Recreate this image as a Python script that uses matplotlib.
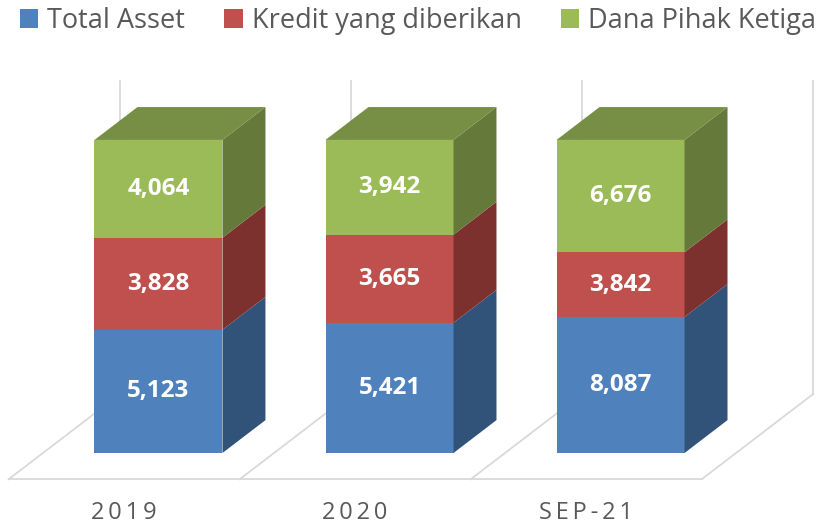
import matplotlib.pyplot as plt
from matplotlib.patches import Polygon, Patch
import numpy as np

categories = ['2019', '2020', 'SEP-21']
series_names = ['Total Asset', 'Kredit yang diberikan', 'Dana Pihak Ketiga']
total_asset = [5123, 5421, 8087]
kredit = [3828, 3665, 3842]
dpk = [4064, 3942, 6676]

front_colors = ['#4F81BD', '#C0504D', '#9BBB59']
side_colors = ['#325379', '#7D312F', '#65793A']
top_colors = ['#3C6494', '#963D3B', '#768F44']
grid_col = '#D9D9D9'
text_col = '#595959'

# 3D look: depth vector in data units
bar_w = 0.554
DX, DY = 0.186, 0.105
d_front, d_back = -0.8, 1.8

fig = plt.figure(figsize=(8.22, 5.27), dpi=100)
ax = fig.add_axes([0, 0, 1, 1])
ax.set_xlim(-0.686, 2.872)
ax.set_ylim(-0.2364, 1.447)
ax.axis('off')

n = len(categories)
x = np.arange(n)

# floor and back wall lines
for b in np.arange(n + 1) - 0.5:
    ax.plot([b + d_front * DX, b + d_back * DX], [d_front * DY, d_back * DY],
            color=grid_col, lw=1.3, zorder=1)
    ax.plot([b + d_back * DX] * 2, [d_back * DY, 1 + d_back * DY],
            color=grid_col, lw=1.3, zorder=1)
ax.plot([-0.5 + d_front * DX, n - 0.5 + d_front * DX], [d_front * DY] * 2,
        color=grid_col, lw=1.3, zorder=1)

# 100% stacked values
data = np.array([total_asset, kredit, dpk], dtype=float)
frac = data / data.sum(axis=0)
bottoms = np.vstack([np.zeros(n), np.cumsum(frac, axis=0)[:-1]])

for s in range(3):
    ax.bar(x, frac[s], bar_w, bottom=bottoms[s], color=front_colors[s],
           edgecolor='none', zorder=3)
    for i in range(n):
        xr = x[i] + bar_w / 2
        y0, y1 = bottoms[s][i], bottoms[s][i] + frac[s][i]
        ax.add_patch(Polygon([(xr, y0), (xr + DX, y0 + DY), (xr + DX, y1 + DY), (xr, y1)],
                             closed=True, facecolor=side_colors[s], edgecolor='none', zorder=3))
        ax.text(x[i], (y0 + y1) / 2, f'{int(data[s][i]):,}', ha='center', va='center',
                color='white', fontsize=17.5, fontweight='bold', family='Open Sans', zorder=5)

# top faces
for i in range(n):
    xl, xr = x[i] - bar_w / 2, x[i] + bar_w / 2
    ax.add_patch(Polygon([(xl, 1), (xl + DX, 1 + DY), (xr + DX, 1 + DY), (xr, 1)],
                         closed=True, facecolor=top_colors[2], edgecolor='none', zorder=3))

# category labels, letter-spaced
for i, c in enumerate(categories):
    ax.text(x[i] + d_front * DX, -0.192, '\u2009'.join(c), ha='center', va='center',
            color=text_col, fontsize=17, family=['Open Sans', 'DejaVu Sans'])

handles = [Patch(facecolor=c, edgecolor='none') for c in front_colors]
fig.legend(handles, series_names, loc='upper center', bbox_to_anchor=(418 / 822, 1 - 4 / 527),
           ncol=3, frameon=False, prop={'family': 'Open Sans', 'size': 19.5},
           labelcolor=text_col, handlelength=0.68, handleheight=0.68,
           handletextpad=0.34, columnspacing=1.44, borderpad=0.1, borderaxespad=0)

fig.savefig('out.png', dpi=100)
